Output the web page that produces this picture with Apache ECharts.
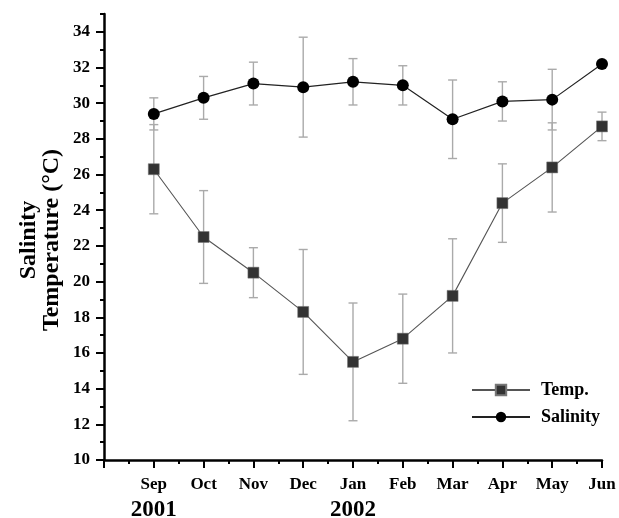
<!DOCTYPE html>
<html>
<head>
<meta charset="utf-8">
<script src="https://cdn.jsdelivr.net/npm/echarts@6/dist/echarts.min.js"></script>
<style>html,body{margin:0;padding:0;background:#fff}#c{width:619px;height:518px}</style>
</head>
<body>
<div id="c"></div>
<script>
const months = ['Sep','Oct','Nov','Dec','Jan','Feb','Mar','Apr','May','Jun'];
const yearLabels = {Sep:'2001', Jan:'2002'};
const tempMean = [26.3, 22.5, 20.5, 18.3, 15.5, 16.8, 19.2, 24.4, 26.4, 28.7];
const tempLow  = [23.8, 19.9, 19.1, 14.8, 12.2, 14.3, 16.0, 22.2, 23.9, 27.9];
const tempHigh = [28.8, 25.1, 21.9, 21.8, 18.8, 19.3, 22.4, 26.6, 28.9, 29.5];
const salMean  = [29.4, 30.3, 31.1, 30.9, 31.2, 31.0, 29.1, 30.1, 30.2, 32.2];
const salLow   = [28.5, 29.1, 29.9, 28.1, 29.9, 29.9, 26.9, 29.0, 28.5, 32.2];
const salHigh  = [30.3, 31.5, 32.3, 33.7, 32.5, 32.1, 31.3, 31.2, 31.9, 32.2];
const yMajorTicks = [10,12,14,16,18,20,22,24,26,28,30,32,34];
const yMinorTicks = [11,13,15,17,19,21,23,25,27,29,31,33,35];

const FONT = 'Liberation Serif';
const pts = arr => arr.map((v,i)=>[i+1, v]);
const errData = (lo,hi) => lo.map((v,i)=>[i+1, v, hi[i]]);

function errRender(params, api){
  const x = api.value(0), lo = api.value(1), hi = api.value(2);
  if (lo === hi) return null;
  const a = api.coord([x, hi]), b = api.coord([x, lo]);
  const w = 4.5;
  const st = {stroke:'#aaaaaa', lineWidth:1.4};
  return {type:'group', children:[
    {type:'line', shape:{x1:a[0],y1:a[1],x2:b[0],y2:b[1]}, style:st},
    {type:'line', shape:{x1:a[0]-w,y1:a[1],x2:a[0]+w,y2:a[1]}, style:st},
    {type:'line', shape:{x1:b[0]-w,y1:b[1],x2:b[0]+w,y2:b[1]}, style:st}
  ]};
}

const chart = echarts.init(document.getElementById('c'));
chart.setOption({
  animation:false,
  backgroundColor:'#fff',
  grid:{left:104, right:17, top:14, bottom:58, containLabel:false, outerBoundsMode:'none'},
  legend:{
    orient:'vertical', left:466, top:376, itemWidth:58, itemHeight:13, itemGap:9,
    textStyle:{fontFamily:FONT, fontWeight:'bold', fontSize:18, color:'#000', padding:[0,0,0,6]},
    data:['Temp.','Salinity']
  },
  graphic:[{
    type:'text', x:40, y:240, rotation:Math.PI/2,
    style:{text:'Salinity\nTemperature (°C)', fontFamily:FONT, fontWeight:'bold', fontSize:24,
      lineHeight:23, align:'center', verticalAlign:'middle', fill:'#000'}
  }],
  xAxis:{
    type:'value', min:0, max:10, interval:1,
    axisLine:{lineStyle:{color:'#000', width:2.5}},
    axisTick:{length:8, lineStyle:{color:'#000', width:2}},
    minorTick:{show:true, splitNumber:2, length:4, lineStyle:{color:'#000', width:2}},
    splitLine:{show:false},
    axisLabel:{
      margin:15, color:'#000',
      formatter: v => {
        if (v < 1) return '';
        const m = months[v-1];
        return yearLabels[m] ? '{m|'+m+'}\n{y|'+yearLabels[m]+'}' : '{m|'+m+'}';
      },
      rich:{
        m:{fontFamily:FONT, fontWeight:'bold', fontSize:17, color:'#000', lineHeight:19},
        y:{fontFamily:FONT, fontWeight:'bold', fontSize:23, color:'#000', lineHeight:32}
      }
    }
  },
  yAxis:[{
    type:'value', min:10, max:35,
    axisLine:{show:true, lineStyle:{color:'#000', width:2.5}},
    axisTick:{show:true, length:8, customValues:yMajorTicks, lineStyle:{color:'#000', width:2}},
    axisLabel:{customValues:yMajorTicks, margin:14, color:'#000', fontFamily:FONT, fontWeight:'bold', fontSize:17},
    splitLine:{show:false}
  },{
    type:'value', min:10, max:35, position:'left',
    axisLine:{show:false},
    axisTick:{show:true, length:4, customValues:yMinorTicks, lineStyle:{color:'#000', width:2}},
    axisLabel:{show:false},
    splitLine:{show:false}
  }],
  series:[
    {type:'custom', name:'tempErr', renderItem:errRender, data:errData(tempLow,tempHigh), z:1, silent:true},
    {type:'custom', name:'salErr', renderItem:errRender, data:errData(salLow,salHigh), z:1, silent:true},
    {type:'line', name:'Temp.', data:pts(tempMean), symbol:'rect', symbolSize:11,
      itemStyle:{color:'#333', borderColor:'#777', borderWidth:0.5},
      lineStyle:{color:'#555', width:1.1}, z:3},
    {type:'line', name:'Salinity', data:pts(salMean), symbol:'circle', symbolSize:12,
      itemStyle:{color:'#000'}, lineStyle:{color:'#222', width:1.2}, z:4}
  ]
});
</script>
</body>
</html>
